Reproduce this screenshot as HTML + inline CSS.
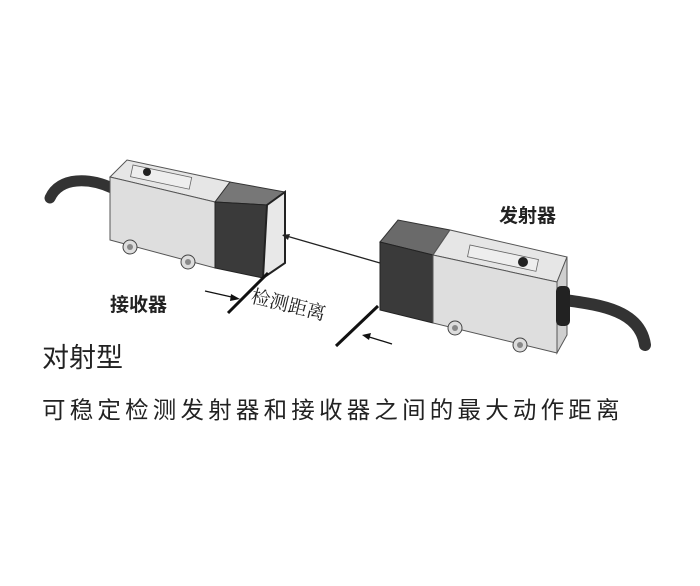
<!DOCTYPE html>
<html><head><meta charset="utf-8"><style>
body{margin:0;background:#fff;}
svg{display:block}
text{font-family:"Liberation Sans","Noto Sans CJK SC",sans-serif;fill:#222}
</style></head><body>
<svg width="700" height="586" viewBox="0 0 700 586" xmlns="http://www.w3.org/2000/svg">
<path d="M112,188 C90,178 60,176 50,198" stroke="#333" stroke-width="11" fill="none" stroke-linecap="round"/>
<polygon points="110,177 127,160 230,182 215,202" fill="#e6e6e6" stroke="#555" stroke-width="1"/>
<polygon points="110,177 215,202 215,268 110,240" fill="#dedede" stroke="#555" stroke-width="1"/>
<rect x="133" y="165" width="60" height="12" transform="rotate(12 133 165)" fill="#eee" stroke="#666" stroke-width="0.8"/>
<circle cx="147" cy="172" r="4" fill="#222"/>
<circle cx="130" cy="247" r="7" fill="#ddd" stroke="#444"/><circle cx="130" cy="247" r="3" fill="#888"/>
<circle cx="188" cy="262" r="7" fill="#ddd" stroke="#444"/><circle cx="188" cy="262" r="3" fill="#888"/>
<polygon points="215,202 230,182 285,192 267,205" fill="#777" stroke="#333"/>
<polygon points="215,202 267,205 263,278 215,268" fill="#3a3a3a" stroke="#222"/>
<polygon points="267,205 285,192 285,263 263,278" fill="#e8e8e8" stroke="#222" stroke-width="2"/>
<line x1="283" y1="235" x2="380" y2="263" stroke="#222" stroke-width="1.3"/>
<polygon points="282,235 290,234 288,240" fill="#222"/>
<polygon points="380,242 398,220 450,230 433,255" fill="#6a6a6a" stroke="#333"/>
<polygon points="380,242 433,255 433,323 380,310" fill="#3a3a3a" stroke="#222"/>
<polygon points="433,255 450,230 567,257 557,282" fill="#e6e6e6" stroke="#555"/>
<polygon points="433,255 557,282 557,353 433,323" fill="#dedede" stroke="#555"/>
<polygon points="557,282 567,257 567,335 557,353" fill="#cfcfcf" stroke="#555"/>
<rect x="470" y="245" width="70" height="12" transform="rotate(12 470 245)" fill="#eee" stroke="#666" stroke-width="0.8"/>
<circle cx="523" cy="262" r="5" fill="#222"/>
<path d="M565,300 C600,305 640,310 645,345" stroke="#333" stroke-width="12" fill="none" stroke-linecap="round"/>
<rect x="556" y="286" width="14" height="40" rx="5" fill="#222"/>
<circle cx="455" cy="328" r="7" fill="#ddd" stroke="#444"/><circle cx="455" cy="328" r="3" fill="#888"/>
<circle cx="520" cy="345" r="7" fill="#ddd" stroke="#444"/><circle cx="520" cy="345" r="3" fill="#888"/>
<line x1="228" y1="313" x2="268" y2="273" stroke="#111" stroke-width="3"/>
<line x1="336" y1="346" x2="378" y2="306" stroke="#111" stroke-width="3"/>
<line x1="205" y1="291" x2="236" y2="298" stroke="#111" stroke-width="1.3"/>
<polygon points="240,299 231,294 230,301" fill="#111"/>
<line x1="392" y1="344" x2="366" y2="336" stroke="#111" stroke-width="1.3"/>
<polygon points="362,335 371,333 369,340" fill="#111"/>
<text x="499" y="222" font-size="19" font-weight="bold">发射器</text>
<text x="110" y="311" font-size="19" font-weight="bold">接收器</text>
<text x="250" y="302" font-size="19" transform="rotate(14 250 302)" style="font-family:'Noto Serif CJK SC',serif" fill="#444">检测距离</text>
<text x="42" y="367" font-size="27">对射型</text>
<text x="42" y="418" font-size="23.5" letter-spacing="4.2">可稳定检测发射器和接收器之间的最大动作距离</text>
</svg>
</body></html>
